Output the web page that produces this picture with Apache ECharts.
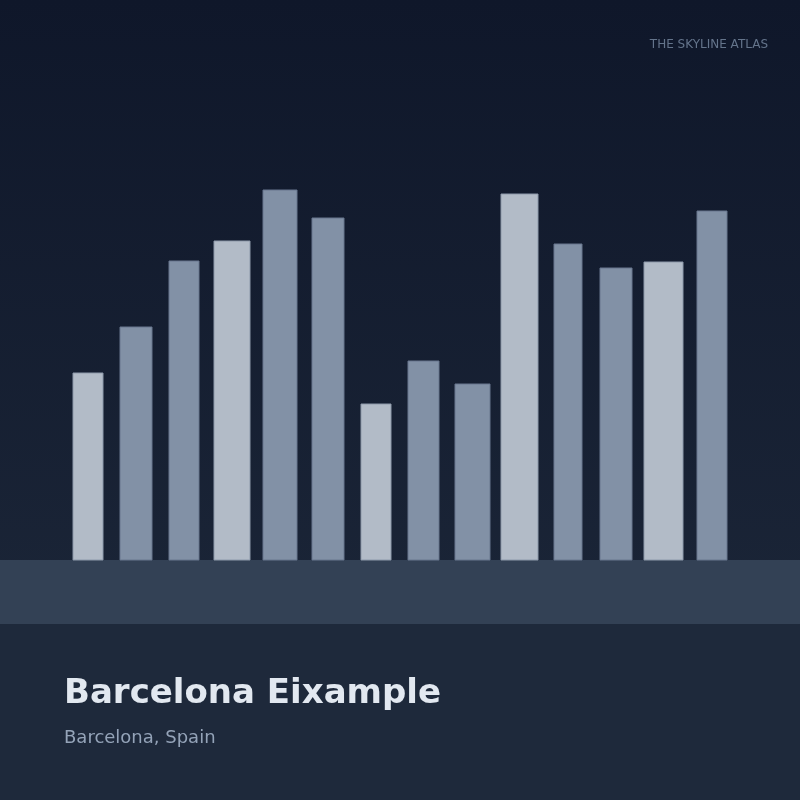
<!DOCTYPE html>
<html>
<head>
<meta charset="utf-8">
<script src="https://cdn.jsdelivr.net/npm/echarts@6/dist/echarts.min.js"></script>
<style>html,body{margin:0;padding:0;background:#0f172a;}#c{width:800px;height:800px;}</style>
</head>
<body>
<div id="c"></div>
<script>
// Skyline data (x in layout units along street, heights in same units)
var buildingNames = ['B1','B2','B3','B4','B5','B6','B7','B8','B9','B10','B11','B12','B13','B14'];
var buildingStart = [73, 120, 169, 214, 263, 312, 361, 408, 455, 501, 554, 600, 644, 697];
var buildingWidth = [30, 32, 30, 36, 34, 32, 30, 31, 35, 37, 28, 32, 39, 30];
var buildingHeight = [187, 233, 299, 319, 370, 342, 156, 199, 176, 366, 316, 292, 298, 349];

var titleText = 'Barcelona Eixample';
var subtitleText = 'Barcelona, Spain';
var brandText = 'THE SKYLINE ATLAS';

var seriesData = buildingNames.map(function (n, i) {
  return [buildingStart[i], buildingStart[i] + buildingWidth[i], buildingHeight[i], i];
});

var chart = echarts.init(document.getElementById('c'));
chart.setOption({
  animation: false,
  grid: { left: 0, right: 0, top: 0, bottom: 240 },
  xAxis: { type: 'value', min: 0, max: 800, show: false },
  yAxis: { type: 'value', min: 0, max: 560, show: false },
  graphic: [
    { type: 'rect', z: -10, shape: { x: 0, y: 0, width: 800, height: 800 },
      style: { fill: new echarts.graphic.LinearGradient(0, 0, 0, 1, [
        { offset: 0, color: '#0f172a' }, { offset: 1, color: '#1e293b' }]) } },
    { type: 'rect', z: -5, shape: { x: 0, y: 560, width: 800, height: 64 }, style: { fill: '#334155' } },
    { type: 'rect', z: -5, shape: { x: 0, y: 624, width: 800, height: 176 }, style: { fill: '#1e293b' } },
    { type: 'text', left: 64, top: 677, style: { text: titleText, fill: '#e2e8f0',
      font: 'bold 34px "DejaVu Sans", sans-serif' } },
    { type: 'text', left: 64, top: 729, style: { text: subtitleText, fill: '#94a3b8',
      font: '18px "DejaVu Sans", sans-serif' } },
    { type: 'text', right: 32, top: 39, style: { text: brandText, fill: '#64748b',
      font: '12px "DejaVu Sans", sans-serif' } }
  ],
  series: [{
    type: 'custom',
    data: seriesData,
    renderItem: function (params, api) {
      var p0 = api.coord([api.value(0), api.value(2)]);
      var p1 = api.coord([api.value(1), 0]);
      var idx = api.value(3);
      var light = idx % 3 === 0;
      return {
        type: 'rect',
        shape: { x: p0[0], y: p0[1], width: p1[0] - p0[0], height: p1[1] - p0[1] },
        style: {
          fill: light ? '#b2bbc7' : '#8291a6',
          stroke: light ? '#8d99aa' : '#68778e',
          lineWidth: 1
        }
      };
    }
  }]
});
</script>
</body>
</html>
